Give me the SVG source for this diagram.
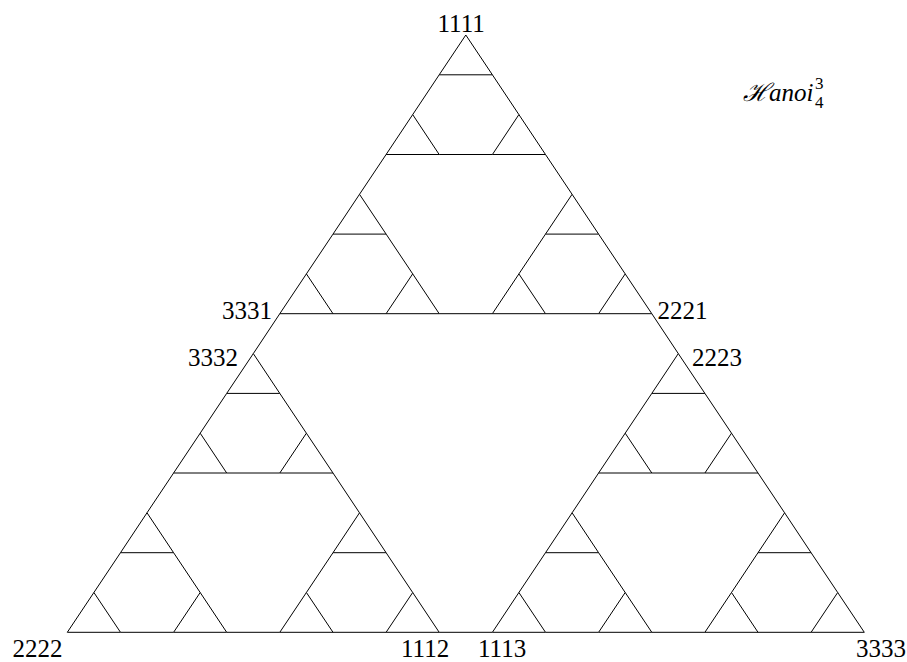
<svg xmlns="http://www.w3.org/2000/svg" width="907" height="662" viewBox="0 0 907 662">
<style>
.t{fill:none;stroke:#000;stroke-width:1;stroke-linejoin:miter}
.e{stroke:#000;stroke-width:1;fill:none}
.lbl{font-family:"Liberation Serif","Times New Roman",serif;font-size:25px;fill:#000}
.ttl{font-family:"Liberation Serif","DejaVu Serif",serif;font-style:italic;font-size:25px;fill:#000}
</style>
<rect width="907" height="662" fill="#fff"/>
<g id="nodes">
<g id="t1"><polygon class="t" points="465.8,35 439.2,74.8 492.4,74.8"/></g>
<g id="t2"><polygon class="t" points="412.7,114.6 386.1,154.5 439.2,154.5"/></g>
<g id="t3"><polygon class="t" points="518.9,114.6 492.4,154.5 545.5,154.5"/></g>
<g id="t4"><polygon class="t" points="359.5,194.3 333.0,234.1 386.1,234.1"/></g>
<g id="t5"><polygon class="t" points="306.4,273.9 279.8,313.7 333.0,313.7"/></g>
<g id="t6"><polygon class="t" points="412.7,273.9 386.1,313.7 439.2,313.7"/></g>
<g id="t7"><polygon class="t" points="572.1,194.3 545.5,234.1 598.6,234.1"/></g>
<g id="t8"><polygon class="t" points="518.9,273.9 492.4,313.7 545.5,313.7"/></g>
<g id="t9"><polygon class="t" points="625.2,273.9 598.6,313.7 651.8,313.7"/></g>
<g id="t10"><polygon class="t" points="253.3,353.6 226.7,393.4 279.8,393.4"/></g>
<g id="t11"><polygon class="t" points="200.2,433.2 173.6,473.0 226.7,473.0"/></g>
<g id="t12"><polygon class="t" points="306.4,433.2 279.8,473.0 333.0,473.0"/></g>
<g id="t13"><polygon class="t" points="147.0,512.8 120.5,552.7 173.6,552.7"/></g>
<g id="t14"><polygon class="t" points="93.9,592.5 67.3,632.3 120.5,632.3"/></g>
<g id="t15"><polygon class="t" points="200.2,592.5 173.6,632.3 226.7,632.3"/></g>
<g id="t16"><polygon class="t" points="359.5,512.8 333.0,552.7 386.1,552.7"/></g>
<g id="t17"><polygon class="t" points="306.4,592.5 279.8,632.3 333.0,632.3"/></g>
<g id="t18"><polygon class="t" points="412.7,592.5 386.1,632.3 439.2,632.3"/></g>
<g id="t19"><polygon class="t" points="678.3,353.6 651.8,393.4 704.9,393.4"/></g>
<g id="t20"><polygon class="t" points="625.2,433.2 598.6,473.0 651.8,473.0"/></g>
<g id="t21"><polygon class="t" points="731.5,433.2 704.9,473.0 758.0,473.0"/></g>
<g id="t22"><polygon class="t" points="572.1,512.8 545.5,552.7 598.6,552.7"/></g>
<g id="t23"><polygon class="t" points="518.9,592.5 492.4,632.3 545.5,632.3"/></g>
<g id="t24"><polygon class="t" points="625.2,592.5 598.6,632.3 651.8,632.3"/></g>
<g id="t25"><polygon class="t" points="784.6,512.8 758.0,552.7 811.1,552.7"/></g>
<g id="t26"><polygon class="t" points="731.5,592.5 704.9,632.3 758.0,632.3"/></g>
<g id="t27"><polygon class="t" points="837.7,592.5 811.1,632.3 864.3,632.3"/></g>
</g>
<g id="connectors" class="e">
<line x1="439.2" y1="74.8" x2="412.7" y2="114.6"/>
<line x1="492.4" y1="74.8" x2="518.9" y2="114.6"/>
<line x1="439.2" y1="154.5" x2="492.4" y2="154.5"/>
<line x1="333.0" y1="234.1" x2="306.4" y2="273.9"/>
<line x1="386.1" y1="234.1" x2="412.7" y2="273.9"/>
<line x1="333.0" y1="313.7" x2="386.1" y2="313.7"/>
<line x1="545.5" y1="234.1" x2="518.9" y2="273.9"/>
<line x1="598.6" y1="234.1" x2="625.2" y2="273.9"/>
<line x1="545.5" y1="313.7" x2="598.6" y2="313.7"/>
<line x1="226.7" y1="393.4" x2="200.2" y2="433.2"/>
<line x1="279.8" y1="393.4" x2="306.4" y2="433.2"/>
<line x1="226.7" y1="473.0" x2="279.8" y2="473.0"/>
<line x1="120.5" y1="552.7" x2="93.9" y2="592.5"/>
<line x1="173.6" y1="552.7" x2="200.2" y2="592.5"/>
<line x1="120.5" y1="632.3" x2="173.6" y2="632.3"/>
<line x1="333.0" y1="552.7" x2="306.4" y2="592.5"/>
<line x1="386.1" y1="552.7" x2="412.7" y2="592.5"/>
<line x1="333.0" y1="632.3" x2="386.1" y2="632.3"/>
<line x1="651.8" y1="393.4" x2="625.2" y2="433.2"/>
<line x1="704.9" y1="393.4" x2="731.5" y2="433.2"/>
<line x1="651.8" y1="473.0" x2="704.9" y2="473.0"/>
<line x1="545.5" y1="552.7" x2="518.9" y2="592.5"/>
<line x1="598.6" y1="552.7" x2="625.2" y2="592.5"/>
<line x1="545.5" y1="632.3" x2="598.6" y2="632.3"/>
<line x1="758.0" y1="552.7" x2="731.5" y2="592.5"/>
<line x1="811.1" y1="552.7" x2="837.7" y2="592.5"/>
<line x1="758.0" y1="632.3" x2="811.1" y2="632.3"/>
<line x1="386.1" y1="154.5" x2="359.5" y2="194.3"/>
<line x1="545.5" y1="154.5" x2="572.1" y2="194.3"/>
<line x1="439.2" y1="313.7" x2="492.4" y2="313.7"/>
<line x1="173.6" y1="473.0" x2="147.0" y2="512.8"/>
<line x1="333.0" y1="473.0" x2="359.5" y2="512.8"/>
<line x1="226.7" y1="632.3" x2="279.8" y2="632.3"/>
<line x1="598.6" y1="473.0" x2="572.1" y2="512.8"/>
<line x1="758.0" y1="473.0" x2="784.6" y2="512.8"/>
<line x1="651.8" y1="632.3" x2="704.9" y2="632.3"/>
<line x1="279.8" y1="313.7" x2="253.3" y2="353.6"/>
<line x1="651.8" y1="313.7" x2="678.3" y2="353.6"/>
<line x1="439.2" y1="632.3" x2="492.4" y2="632.3"/>
</g>
<g id="labels" class="lbl">
<text x="437.5" y="32">1111</text>
<text x="12.5" y="657">2222</text>
<text x="401" y="657">1112</text>
<text x="478" y="657">1113</text>
<text x="856" y="657">3333</text>
<text x="222" y="319">3331</text>
<text x="188" y="366">3332</text>
<text x="657.5" y="319">2221</text>
<text x="692" y="366">2223</text>
</g>
<g id="title">
<text class="ttl" x="743" y="101">ℋanoi</text>
<text class="lbl" x="815" y="89" style="font-size:17px">3</text>
<text class="lbl" x="815" y="108" style="font-size:17px">4</text>
</g>
</svg>
